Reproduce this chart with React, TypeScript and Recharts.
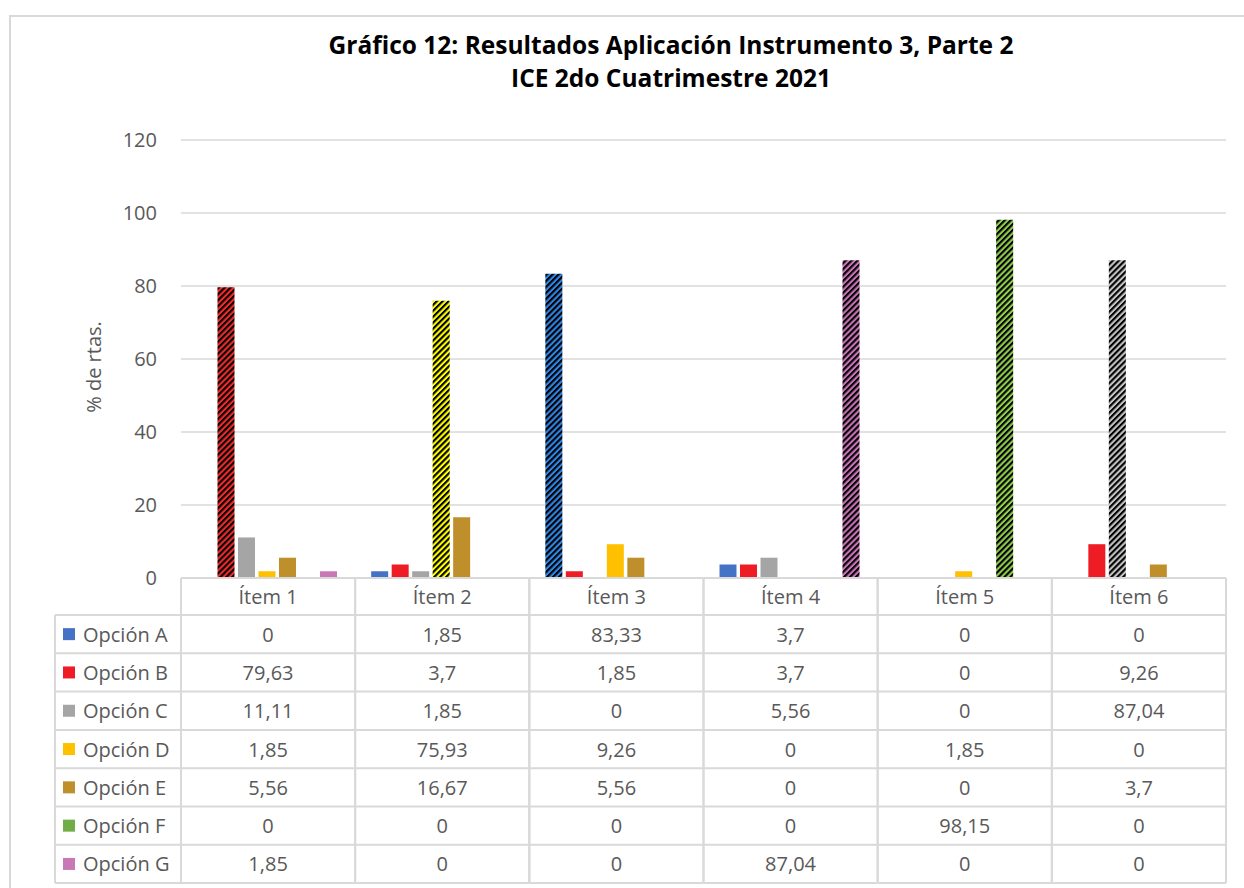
import { BarChart, Bar, XAxis, YAxis, CartesianGrid, Cell } from 'recharts';

const W = 1244;
const H = 888;
const PLOT_LEFT = 181;
const PLOT_RIGHT = 18;
const PLOT_TOP = 140;
const PLOT_BOTTOM = 310;
const Y_AXIS_W = 60;
const HEADER_H = 37;
const ROW_H = 38.3;
const LINE = '#d9d9d9';
const TEXT = '#595959';
const FONT = '"Open Sans", sans-serif';
const FS = 20;

// data
const items = ['Ítem 1', 'Ítem 2', 'Ítem 3', 'Ítem 4', 'Ítem 5', 'Ítem 6'];
const options = ['A', 'B', 'C', 'D', 'E', 'F', 'G'];
const optionA = [0, 1.85, 83.33, 3.7, 0, 0];
const optionB = [79.63, 3.7, 1.85, 3.7, 0, 9.26];
const optionC = [11.11, 1.85, 0, 5.56, 0, 87.04];
const optionD = [1.85, 75.93, 9.26, 0, 1.85, 0];
const optionE = [5.56, 16.67, 5.56, 0, 0, 3.7];
const optionF = [0, 0, 0, 0, 98.15, 0];
const optionG = [1.85, 0, 0, 87.04, 0, 0];
// the correct answer per item is drawn hatched
const correctOption = ['B', 'D', 'A', 'G', 'F', 'C'];
const yTicks = [0, 20, 40, 60, 80, 100, 120];

const seriesValues: Record<string, number[]> = {
  A: optionA,
  B: optionB,
  C: optionC,
  D: optionD,
  E: optionE,
  F: optionF,
  G: optionG,
};

const colors: Record<string, string> = {
  A: '#4472C4',
  B: '#EE1C25',
  C: '#A5A5A5',
  D: '#FFC000',
  E: '#BF8F2C',
  F: '#70AD47',
  G: '#C978B6',
};

// background colours of the hatched (correct answer) bars
const hatchColors: Record<string, string> = {
  A: '#2E86E6',
  B: '#F42A2A',
  C: '#C4C4C4',
  D: '#FFFF00',
  E: '#BF8F2C',
  F: '#8FCF4C',
  G: '#CA72B8',
};

const chartData = items.map((item, i) => {
  const row: Record<string, string | number> = { item };
  options.forEach((o) => {
    row[o] = seriesValues[o][i];
  });
  return row;
});

const fmt = (v: number) => String(v).replace('.', ',');

const colW = (W - PLOT_LEFT - PLOT_RIGHT) / items.length;

interface TickProps {
  x?: number;
  y?: number;
  index?: number;
  payload?: { value: string };
}

function TableColumn({ x = 0, y = 0, index = 0, payload }: TickProps) {
  const left = x - colW / 2;
  const right = x + colW / 2;
  const bottom = y + HEADER_H + ROW_H * options.length;
  const legendLeft = 55;
  return (
    <g fontFamily={FONT} fontSize={FS} fill={TEXT}>
      <line x1={left} x2={left} y1={y} y2={bottom} stroke={LINE} strokeWidth={2} />
      <line x1={right} x2={right} y1={y} y2={bottom} stroke={LINE} strokeWidth={2} />
      <line x1={left} x2={right} y1={y} y2={y} stroke={LINE} strokeWidth={2} />
      <text x={x} y={y + HEADER_H / 2} textAnchor="middle" dominantBaseline="central">
        {payload?.value}
      </text>
      {options.map((o, r) => {
        const top = y + HEADER_H + r * ROW_H;
        return (
          <g key={o}>
            <line x1={index === 0 ? legendLeft : left} x2={right} y1={top} y2={top} stroke={LINE} strokeWidth={2} />
            <text x={x} y={top + ROW_H / 2} textAnchor="middle" dominantBaseline="central">
              {fmt(seriesValues[o][index])}
            </text>
            {index === 0 && (
              <g>
                <rect x={legendLeft + 8} y={top + ROW_H / 2 - 6} width={12} height={12} fill={colors[o]} />
                <text x={legendLeft + 28} y={top + ROW_H / 2} dominantBaseline="central">
                  {'Opción ' + o}
                </text>
              </g>
            )}
          </g>
        );
      })}
      <line x1={index === 0 ? legendLeft : left} x2={right} y1={bottom} y2={bottom} stroke={LINE} strokeWidth={2} />
      {index === 0 && (
        <line x1={legendLeft} x2={legendLeft} y1={y + HEADER_H} y2={bottom} stroke={LINE} strokeWidth={2} />
      )}
    </g>
  );
}

export default function App() {
  return (
    <div style={{ position: 'absolute', left: 0, top: 0, width: W, height: H, background: '#fff', overflow: 'hidden' }}>
      <div
        style={{
          position: 'absolute',
          left: 9,
          top: 15,
          width: W,
          height: H,
          borderLeft: `2px solid ${LINE}`,
          borderTop: `2px solid ${LINE}`,
        }}
      />
      <div
        style={{
          position: 'absolute',
          left: 0,
          width: 1342,
          top: 28,
          textAlign: 'center',
          fontFamily: FONT,
          fontWeight: 700,
          fontSize: 24.5,
          lineHeight: '33px',
          color: '#000',
        }}
      >
        <div>Gráfico 12: Resultados Aplicación Instrumento 3, Parte 2</div>
        <div>ICE 2do Cuatrimestre 2021</div>
      </div>
      <div
        style={{
          position: 'absolute',
          left: 93,
          top: 367,
          transform: 'translate(-50%, -50%) rotate(-90deg)',
          fontFamily: FONT,
          fontSize: FS,
          color: TEXT,
          whiteSpace: 'nowrap',
        }}
      >
        % de rtas.
      </div>
      <div style={{ position: 'absolute', left: 0, top: 0 }}>
        <BarChart
          width={W}
          height={H}
          data={chartData}
          margin={{ top: PLOT_TOP, right: PLOT_RIGHT, bottom: 0, left: PLOT_LEFT - Y_AXIS_W }}
          barCategoryGap={16}
          barGap={3.5}
        >
          <defs>
            {options.map((o) => (
              <pattern
                key={o}
                id={`hatch-${o}`}
                patternUnits="userSpaceOnUse"
                width={4.2}
                height={4.2}
                patternTransform="rotate(45)"
              >
                <rect width={4.2} height={4.2} fill={hatchColors[o]} />
                <rect width={2.1} height={4.2} fill="#000" />
              </pattern>
            ))}
          </defs>
          <CartesianGrid vertical={false} stroke={LINE} strokeWidth={1.5} />
          <XAxis
            dataKey="item"
            height={PLOT_BOTTOM}
            axisLine={false}
            tickLine={false}
            tickSize={0}
            tickMargin={0}
            interval={0}
            tick={<TableColumn />}
          />
          <YAxis
            width={Y_AXIS_W}
            domain={[0, 120]}
            ticks={yTicks}
            axisLine={false}
            tickLine={false}
            tickMargin={18}
            tick={{ fill: TEXT, fontSize: FS, fontFamily: FONT }}
          />
          {options.map((o) => (
            <Bar key={o} dataKey={o} fill={colors[o]} isAnimationActive={false}>
              {items.map((_, i) => (
                <Cell key={i} fill={correctOption[i] === o ? `url(#hatch-${o})` : colors[o]} />
              ))}
            </Bar>
          ))}
        </BarChart>
      </div>
    </div>
  );
}
